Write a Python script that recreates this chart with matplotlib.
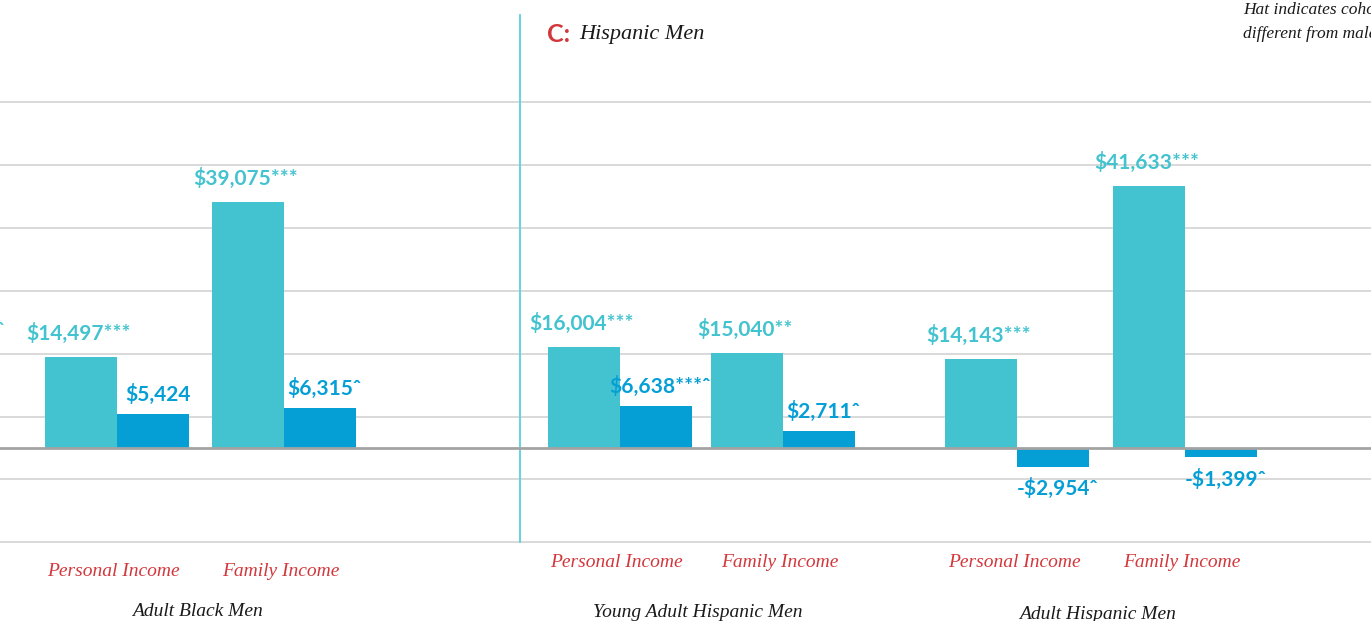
#!/usr/bin/python
# -*- coding: utf-8 -*-
"""
Panel C of the income comparison chart: personal and family income gaps
for three cohorts, cohort value (teal) next to the difference (blue).
"""
import matplotlib
matplotlib.use('Agg')
from matplotlib import pyplot as plt
from matplotlib import transforms

GROUPS = ['Adult Black Men', 'Young Adult Hispanic Men', 'Adult Hispanic Men']
CATEGORIES = ['Personal Income', 'Family Income']
# [group][category]
TEAL_VALUES = [[14497, 39075], [16004, 15040], [14143, 41633]]
TEAL_MARKS = [['***', '***'], ['***', '**'], ['***', '***']]
BLUE_VALUES = [[5424, 6315], [6638, 2711], [-2954, -1399]]
BLUE_MARKS = [['', '\u02c6'], ['***\u02c6', '\u02c6'], ['\u02c6', '\u02c6']]
GRID_VALUES = [-15000, -5000, 5000, 15000, 25000, 35000, 45000, 55000]
PANEL_TITLE = 'Hispanic Men'
NOTE_LINES = ['Hat indicates cohort is significantly',
              'different from male counterparts']

TEAL = '#43C3CF'
BLUE = '#059FD6'
RED = '#D2373B'
SANS = ['Lato', 'DejaVu Sans']
SERIF = ['Liberation Serif', 'DejaVu Serif']

# layout (x in figure pixels across the 1371 px wide panel strip)
GROUP_CENTERS = [200, 701, 1101]
PAIR_GAPS = [167, 163, 168]
BAR_W = 72
DIVIDER_X = 520
CAT_LABEL_Y = [0.079, 0.095, 0.095]
GROUP_LABEL_Y = [0.016, 0.014, 0.011]


def money(val):
    """ Format a dollar value the way the report does """
    sign = '-' if val < 0 else ''
    return '%s$%s' % (sign, format(abs(val), ','))


def plot_data():
    """ Draw the grouped bars with labels """
    fig = plt.figure(figsize=(13.71, 6.21), dpi=100)
    ax = fig.add_axes([0, 0, 1, 1])
    ax.set_xlim(0, 1371)
    ax.set_ylim(-27500, 71230)
    ax.axis('off')

    for gval in GRID_VALUES:
        ax.axhline(gval, color='#CFCFCF', lw=1.1, zorder=0)
    ax.axhline(0, color='#A3A3A3', lw=2, zorder=3)
    ax.axvline(DIVIDER_X, ymin=0.127, ymax=0.976, color='#5ACFDE', lw=1.3, zorder=1)

    xtrans = transforms.blended_transform_factory(ax.transData, ax.transAxes)
    for gi, group in enumerate(GROUPS):
        for ci, cat in enumerate(CATEGORIES):
            pair_x = GROUP_CENTERS[gi] + (ci - 0.5) * PAIR_GAPS[gi]
            tx = pair_x - BAR_W / 2
            bx = pair_x + BAR_W / 2
            tval = TEAL_VALUES[gi][ci]
            bval = BLUE_VALUES[gi][ci]
            ax.bar(tx, tval, width=BAR_W, color=TEAL, zorder=2)
            ax.bar(bx, bval, width=BAR_W, color=BLUE, zorder=2)
            ax.annotate(money(tval) + TEAL_MARKS[gi][ci], (tx - 2, tval),
                        xytext=(0, 17), textcoords='offset points',
                        ha='center', va='center', color=TEAL,
                        fontsize=15, fontweight='bold', family=SANS, zorder=5)
            off = 14 if bval >= 0 else -16
            ax.annotate(money(bval) + BLUE_MARKS[gi][ci], (bx + 5, bval),
                        xytext=(0, off), textcoords='offset points',
                        ha='center', va='center', color=BLUE,
                        fontsize=15, fontweight='bold', family=SANS, zorder=5)
            ax.text(pair_x - 3, CAT_LABEL_Y[gi], cat, transform=xtrans,
                    ha='center', va='center', color=RED, fontsize=14,
                    style='italic', family=SERIF)
        ax.text(GROUP_CENTERS[gi] - 3, GROUP_LABEL_Y[gi], group, transform=xtrans,
                ha='center', va='center', color='#1A1A1A', fontsize=14,
                style='italic', family=SERIF)

    # cut-off hat from the neighbouring panel
    ax.text(0, 18600, '\u02c6', ha='center', va='center', color=TEAL,
            fontsize=15, fontweight='bold', family=SANS)

    fig.text(547 / 1371, 1 - 34 / 621, 'C:', ha='left', va='center', color=RED,
             fontsize=18, fontweight='bold', family=SANS)
    fig.text(579 / 1371, 1 - 35 / 621, PANEL_TITLE, ha='left', va='center',
             color='#1A1A1A', fontsize=16, style='italic', family=SERIF)
    for li, line in enumerate(NOTE_LINES):
        fig.text(1243 / 1371, 1 - (10 + 24 * li) / 621, line, ha='left', va='center',
                 color='#1A1A1A', fontsize=12.5, style='italic', family=SERIF)

    fig.savefig('out.png', dpi=100, facecolor='white')


plot_data()
